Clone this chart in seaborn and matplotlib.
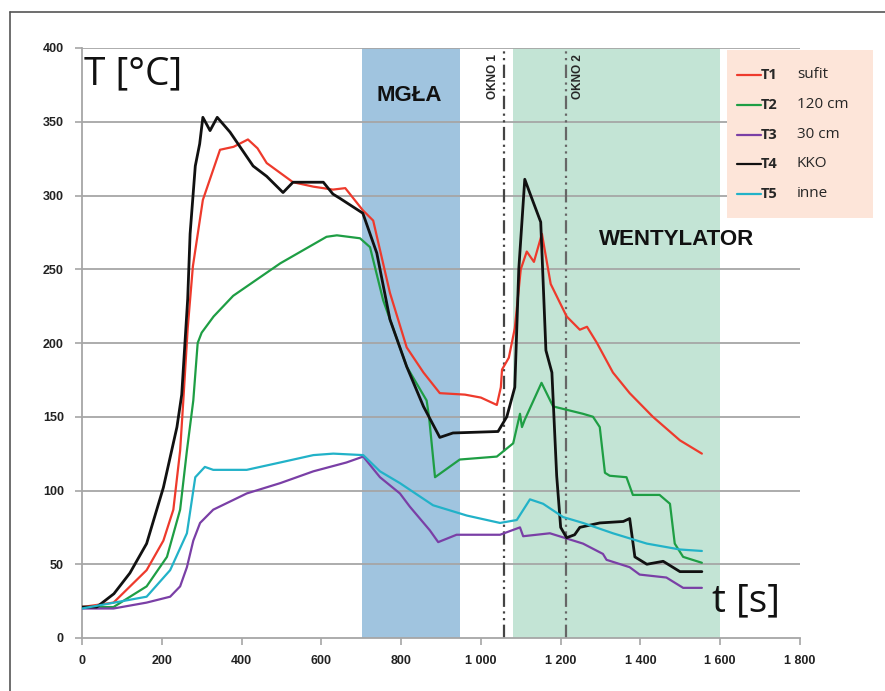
import numpy as np
import pandas as pd
import matplotlib
matplotlib.use('Agg')
import matplotlib.pyplot as plt
import seaborn as sns
from matplotlib.lines import Line2D
from matplotlib.patches import Rectangle

# T1 sufit
t1_t = [0, 79, 162, 204, 229, 246, 254, 265, 278, 303, 346, 380, 416, 440, 463, 529, 580, 629, 660,
        704, 730, 772, 814, 856, 897, 960, 1000, 1040, 1050, 1053, 1070, 1085, 1100, 1115, 1133, 1153,
        1175, 1215, 1248, 1266, 1291, 1331, 1373, 1431, 1499, 1554]
t1_T = [21, 24, 46, 66, 87, 127, 161, 210, 252, 297, 331, 333, 338, 332, 322, 309, 306, 304, 305,
        290, 283, 234, 197, 180, 166, 165, 163, 158, 170, 182, 190, 210, 250, 262, 255, 274,
        240, 218, 209, 211, 200, 180, 166, 150, 134, 125]
# T2 120 cm
t2_t = [0, 79, 162, 213, 246, 263, 279, 290, 300, 330, 379, 497, 613, 639, 697, 722, 755, 814, 864,
        870, 885, 947, 1040, 1081, 1098, 1103, 1110, 1152, 1181, 1256, 1281, 1298, 1311, 1323, 1365,
        1381, 1448, 1474, 1486, 1507, 1554]
t2_T = [21, 21, 35, 55, 87, 127, 161, 200, 207, 218, 232, 254, 272, 273, 271, 265, 229, 184, 161,
        150, 109, 121, 123, 132, 152, 143, 148, 173, 157, 152, 150, 143, 112, 110, 109,
        97, 97, 91, 64, 55, 51]
# T3 30 cm
t3_t = [0, 79, 162, 221, 246, 263, 279, 296, 329, 413, 497, 580, 663, 705, 747, 797, 822, 872, 893,
        939, 1048, 1098, 1106, 1173, 1256, 1306, 1315, 1373, 1398, 1465, 1507, 1554]
t3_T = [20, 20, 24, 28, 35, 48, 66, 78, 87, 98, 105, 113, 119, 123, 109, 98, 89, 73, 65,
        70, 70, 75, 69, 71, 64, 57, 53, 48, 43, 41, 34, 34]
# T4 KKO
t4_t = [0, 37, 80, 120, 162, 204, 238, 250, 265, 271, 284, 295, 303, 321, 339, 371, 429, 463, 504,
        529, 605, 629, 647, 704, 739, 772, 814, 856, 897, 930, 1043, 1065, 1085, 1095, 1110, 1125,
        1150, 1163, 1178, 1190, 1200, 1215, 1235, 1248, 1298, 1357, 1373, 1386, 1416, 1457, 1499, 1554]
t4_T = [21, 21, 30, 44, 64, 102, 143, 165, 230, 274, 320, 335, 353, 344, 353, 343, 320, 313, 302,
        309, 309, 301, 298, 288, 261, 216, 184, 157, 136, 139, 140, 150, 170, 250, 311, 300,
        282, 195, 180, 110, 75, 68, 70, 75, 78, 79, 81, 55, 50, 52, 45, 45]
# T5 inne
t5_t = [0, 162, 221, 263, 284, 308, 329, 413, 497, 580, 630, 705, 747, 797, 880, 965, 1048, 1090,
        1123, 1156, 1206, 1256, 1331, 1416, 1499, 1554]
t5_T = [20, 28, 46, 71, 109, 116, 114, 114, 119, 124, 125, 124, 113, 105, 90, 83, 78, 80,
        94, 91, 82, 78, 71, 64, 60, 59]

names = ['T1', 'T2', 'T3', 'T4', 'T5']
opisy = ['sufit', '120 cm', '30 cm', 'KKO', 'inne']
kolory = ['#ee3a2c', '#1e9e44', '#7a3fa6', '#111111', '#22b2c8']

mgla = (702, 948)
wentylator = (1080, 1600)
okno1 = 1057
okno2 = 1213

xticks = [0, 200, 400, 600, 800, 1000, 1200, 1400, 1600, 1800]
xlabels = ['0', '200', '400', '600', '800', '1 000', '1 200', '1 400', '1 600', '1 800']
yticks = [0, 50, 100, 150, 200, 250, 300, 350, 400]

frames = []
for n, tt, TT in zip(names, [t1_t, t2_t, t3_t, t4_t, t5_t], [t1_T, t2_T, t3_T, t4_T, t5_T]):
    frames.append(pd.DataFrame({'t': tt, 'T': TT, 'czujnik': n}))
df = pd.concat(frames, ignore_index=True)

sns.set_style('white')
plt.rcParams['font.family'] = ['Open Sans', 'DejaVu Sans']
bold_font = ['Liberation Sans', 'DejaVu Sans']

fig = plt.figure(figsize=(8.85, 6.91), dpi=100)
ax = fig.add_axes([82/885, 53/691, 718/885, 590/691])

ax.axvspan(mgla[0], mgla[1], color='#a0c4df', zorder=0, lw=0)
ax.axvspan(wentylator[0], wentylator[1], color='#c3e4d5', zorder=0, lw=0)
for y in yticks[1:]:
    ax.axhline(y, color='#a6a6a6', lw=1.3, zorder=1)

for n, c in zip(names, kolory):
    lw = 2.0 if n == 'T4' else 1.6
    sns.lineplot(data=df[df['czujnik'] == n], x='t', y='T', color=c, lw=lw,
                 estimator=None, sort=False, ax=ax, zorder=3, legend=False)

ax.axvline(okno1, color='#444444', lw=1.6, ls=(0, (6, 2, 1, 2, 1, 2)), zorder=2)
ax.axvline(okno2, color='#666666', lw=1.6, ls=(0, (6, 2, 1, 2, 1, 2)), zorder=2)

ax.set_xlim(0, 1800)
ax.set_ylim(0, 400)
ax.set_xticks(xticks)
ax.set_xticklabels(xlabels)
ax.set_yticks(yticks)
ax.set_xlabel('')
ax.set_ylabel('')
for lab in ax.get_xticklabels() + ax.get_yticklabels():
    lab.set_fontweight('bold')
    lab.set_fontsize(9)
    lab.set_family(bold_font)
    lab.set_color('#222222')
ax.tick_params(axis='both', which='both', direction='out', length=5, width=1.2,
               color='#a6a6a6', bottom=True, left=True)
ax.tick_params(axis='y', pad=8)
ax.tick_params(axis='x', pad=7)
for s in ['top', 'right']:
    ax.spines[s].set_visible(False)
for s in ['left', 'bottom']:
    ax.spines[s].set_color('#a6a6a6')
    ax.spines[s].set_linewidth(1.3)

ax.text(6, 395, 'T [°C]', fontsize=28, va='top', ha='left', color='#111111')
ax.text(1580, 12, 't [s]', fontsize=28, va='bottom', ha='left', color='#111111')
ax.text(820, 368, 'MGŁA', fontsize=16, fontweight='bold', family=bold_font,
        ha='center', va='center', color='#111111')
ax.text(1490, 270, 'WENTYLATOR', fontsize=16, fontweight='bold', family=bold_font,
        ha='center', va='center', color='#111111')
ax.text(okno1 - 26, 396, 'OKNO 1', rotation=90, fontsize=8.5, fontweight='bold',
        family=bold_font, ha='center', va='top')
ax.text(okno2 + 30, 396, 'OKNO 2', rotation=90, fontsize=8.5, fontweight='bold',
        family=bold_font, ha='center', va='top')

# legenda
W, H = 885, 691
fig.patches.append(Rectangle((727/W, 1 - 218/H), 146/W, 168/H, transform=fig.transFigure,
                             facecolor='#fde5d9', edgecolor='none', zorder=5))
rows = [79, 109, 139, 168, 198]
for yy, n, o, c in zip(rows, names, opisy, kolory):
    fy = 1 - yy / H
    fig.add_artist(Line2D([737/W, 761/W], [fy + 4/H, fy + 4/H], color=c, lw=1.6, zorder=6))
    fig.text(761/W, fy, n, fontsize=10.5, fontweight='bold', va='baseline', ha='left', zorder=7)
    fig.text(797/W, fy + 1/H, o, fontsize=11, va='baseline', ha='left', zorder=7)

# ramka
fig.add_artist(Line2D([10/W, 10/W], [-0.01, 1 - 12/H], color='#555555', lw=1.2))
fig.add_artist(Line2D([10/W, 1.01], [1 - 12/H, 1 - 12/H], color='#555555', lw=1.2))

fig.savefig('out.png', dpi=100)
